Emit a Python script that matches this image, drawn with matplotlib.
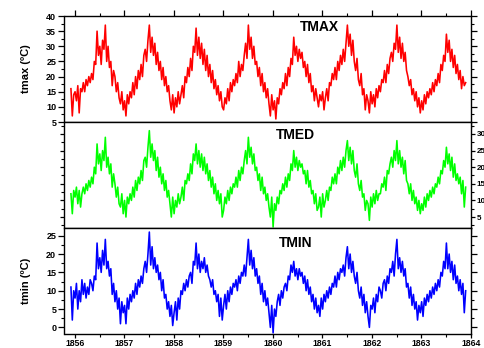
import numpy as np
import matplotlib
matplotlib.use("Agg")
import matplotlib.pyplot as plt
from matplotlib.ticker import MultipleLocator

# ---- data: 10-day samples, each row runs Dec(prev year) .. Nov ----
start_year = 1855.92
step = 1.0 / 36.0

tmax = [
    16, 7, 14, 15, 12, 17, 8, 16, 15, 18, 15, 19, 17, 20, 18, 21, 19, 25, 24, 35, 27, 30, 24, 32, 29, 37, 25, 30, 23, 25, 17, 22, 20, 15, 18, 13,
    11, 15, 9, 12, 7, 14, 11, 15, 13, 18, 14, 20, 16, 22, 19, 24, 20, 27, 29, 25, 32, 37, 28, 33, 27, 31, 24, 28, 22, 25, 19, 23, 17, 20, 15, 17,
    12, 9, 14, 8, 13, 10, 15, 11, 14, 17, 13, 20, 18, 23, 20, 26, 22, 30, 28, 36, 27, 33, 26, 31, 24, 29, 22, 27, 20, 24, 18, 22, 16, 19, 14, 17,
    12, 15, 10, 9, 13, 11, 16, 12, 18, 15, 19, 17, 21, 18, 25, 20, 24, 22, 27, 31, 26, 37, 29, 33, 26, 30, 24, 25, 20, 23, 17, 21, 15, 18, 13, 16,
    11, 7, 14, 9, 12, 6, 13, 11, 16, 14, 18, 16, 21, 17, 23, 20, 26, 24, 33, 27, 30, 25, 29, 26, 28, 23, 25, 20, 24, 18, 21, 15, 17, 12, 16, 13,
    10, 14, 12, 15, 9, 13, 16, 12, 18, 17, 21, 19, 23, 19, 25, 22, 27, 24, 29, 25, 31, 37, 30, 34, 27, 32, 25, 22, 26, 19, 17, 21, 14, 16, 9, 14,
    12, 8, 15, 11, 14, 10, 16, 13, 17, 15, 19, 18, 22, 18, 24, 21, 26, 28, 25, 31, 29, 37, 28, 33, 26, 31, 25, 28, 22, 20, 17, 19, 14, 16, 12, 15,
    10, 13, 8, 12, 9, 14, 11, 15, 13, 16, 14, 18, 15, 19, 17, 21, 18, 24, 22, 27, 25, 34, 28, 32, 25, 29, 23, 27, 21, 24, 19, 22, 16, 20, 17, 18,
]

tmed = [
    12, 6, 13, 11, 14, 9, 13, 8, 12, 14, 12, 15, 13, 16, 14, 17, 15, 20, 18, 27, 21, 24, 19, 25, 22, 29, 20, 23, 18, 21, 14, 18, 15, 11, 14, 9,
    8, 12, 6, 10, 5, 11, 9, 12, 10, 14, 11, 16, 13, 17, 15, 19, 16, 22, 23, 20, 26, 31, 23, 27, 22, 25, 19, 23, 17, 20, 15, 18, 13, 16, 11, 13,
    9, 5, 11, 6, 10, 8, 12, 9, 11, 14, 10, 16, 15, 18, 16, 21, 18, 24, 22, 27, 21, 25, 20, 24, 19, 23, 18, 21, 16, 19, 14, 17, 12, 15, 10, 13,
    9, 12, 5, 7, 11, 9, 13, 10, 14, 12, 15, 14, 17, 14, 19, 16, 20, 18, 22, 25, 21, 29, 23, 26, 21, 24, 19, 20, 16, 18, 13, 17, 12, 14, 10, 12,
    8, 5, 11, 2, 9, 7, 11, 9, 13, 12, 15, 13, 17, 14, 18, 16, 21, 19, 25, 20, 23, 19, 22, 20, 21, 18, 19, 15, 19, 14, 16, 12, 13, 9, 12, 7,
    8, 11, 5, 12, 8, 10, 13, 10, 14, 13, 17, 15, 18, 15, 20, 18, 22, 19, 23, 20, 25, 28, 22, 26, 21, 25, 19, 17, 21, 15, 13, 16, 11, 12, 7, 10,
    9, 4, 11, 8, 12, 9, 13, 10, 12, 12, 15, 14, 17, 13, 19, 18, 21, 23, 20, 25, 22, 28, 21, 25, 20, 23, 18, 22, 16, 15, 12, 15, 10, 13, 9, 11,
    7, 10, 6, 9, 7, 11, 8, 12, 10, 13, 11, 14, 12, 15, 14, 17, 15, 19, 18, 22, 20, 26, 21, 24, 19, 23, 17, 21, 16, 18, 15, 17, 12, 16, 8, 14,
]

tmin = [
    11, 2, 10, 8, 12, 5, 10, 7, 13, 9, 12, 8, 11, 9, 13, 12, 10, 14, 13, 23, 16, 19, 15, 21, 17, 24, 16, 18, 14, 16, 9, 12, 7, 10, 5, 8,
    1, 7, 4, 6, 1, 8, 5, 9, 7, 10, 8, 12, 9, 13, 11, 14, 12, 16, 18, 15, 20, 26, 17, 22, 16, 19, 15, 17, 13, 15, 10, 13, 8, 9, 5, 7,
    3, 6, 0.5, 4, 7, 2, 8, 5, 10, 9, 12, 10, 13, 11, 14, 15, 12, 18, 17, 23, 16, 20, 15, 18, 16, 19, 15, 17, 14, 13, 11, 13, 9, 10, 7, 9,
    3, 8, 2, 6, 9, 5, 10, 7, 11, 9, 12, 11, 13, 10, 14, 12, 15, 14, 17, 14, 19, 24, 17, 21, 16, 19, 14, 16, 12, 14, 9, 12, 7, 10, 6, 8,
    4, 0, 6, -1.5, 5, 3, 7, 9, 6, 10, 8, 11, 12, 10, 14, 13, 17, 15, 18, 14, 16, 13, 16, 14, 15, 12, 14, 10, 13, 9, 11, 7, 9, 5, 8, 4,
    6, 3, 8, 5, 9, 7, 10, 8, 11, 9, 12, 11, 14, 11, 15, 13, 16, 15, 17, 14, 19, 22, 16, 20, 15, 18, 14, 12, 15, 10, 8, 11, 6, 9, 4, 7,
    3, 0, 6, 5, 8, 4, 9, 7, 11, 10, 8, 12, 13, 10, 14, 12, 16, 15, 18, 14, 20, 24, 16, 19, 15, 18, 14, 16, 11, 12, 8, 11, 6, 9, 5, 7,
    2, 6, 4, 7, 3, 8, 6, 9, 7, 10, 8, 11, 9, 12, 10, 13, 11, 15, 14, 18, 16, 23, 16, 20, 15, 18, 13, 17, 12, 14, 10, 13, 9, 12, 4, 10,
]

series = [tmax, tmed, tmin]
colors = ["#FF0000", "#00FF00", "#0000FF"]
titles = ["TMAX", "TMED", "TMIN"]
ylabels = ["tmax (ºC)", None, "tmin (ºC)"]
ylims = [(5, 40), (1.7, 33.6), (-1.8, 27.1)]
yticks = [np.arange(5, 41, 5), np.arange(5, 31, 5), np.arange(0, 26, 5)]
year_ticks = list(range(1856, 1865))
title_pos = [(0.628, 0.896), (0.567, 0.877), (0.569, 0.861)]

plt.rcParams["font.family"] = ["Liberation Sans", "DejaVu Sans"]
plt.rcParams["font.weight"] = "bold"

fig = plt.figure(figsize=(4.85, 3.48), dpi=100)
left, width, h = 64.5 / 485, 406.5 / 485, 106 / 348
bottoms = [1 - 122 / 348, 1 - 228 / 348, 1 - 334 / 348]

for i, (vals, col) in enumerate(zip(series, colors)):
    ax = fig.add_axes([left, bottoms[i], width, h])
    x = start_year + step * np.arange(len(vals))
    ax.plot(x, vals, color=col, lw=1.15)
    ax.set_xlim(1855.79, 1864.0)
    ax.set_ylim(*ylims[i])
    ax.set_xticks(year_ticks)
    ax.xaxis.set_minor_locator(MultipleLocator(0.5))
    ax.set_yticks(yticks[i])
    ax.yaxis.set_minor_locator(MultipleLocator(2.5))
    for s in ax.spines.values():
        s.set_linewidth(1.0)
        s.set_color("black")
    ax.tick_params(axis="both", which="major", direction="out", length=4, width=0.9,
                   labelsize=6.5, pad=2, top=(i == 0), right=True)
    ax.tick_params(axis="both", which="minor", direction="out", length=2.5, width=0.8,
                   top=(i == 0), right=True)
    if i == 1:
        ax.tick_params(axis="y", which="major", labelleft=False, labelright=True,
                       pad=0.8, length=3.2, labelsize=5.8)
    if i < 2:
        ax.tick_params(axis="x", which="both", labelbottom=False)
    else:
        ax.tick_params(axis="x", which="major", length=3.2, pad=0.6, labelsize=6.2)
    for lab in ax.get_xticklabels() + ax.get_yticklabels():
        lab.set_fontweight("bold")
    if ylabels[i]:
        ax.set_ylabel(ylabels[i], fontsize=8, fontweight="bold")
        ax.yaxis.set_label_coords(-0.082, 0.5)
    ax.text(title_pos[i][0], title_pos[i][1], titles[i], transform=ax.transAxes,
            ha="center", va="center", fontsize=10, fontweight="bold")

fig.savefig("out.png", dpi=100)
